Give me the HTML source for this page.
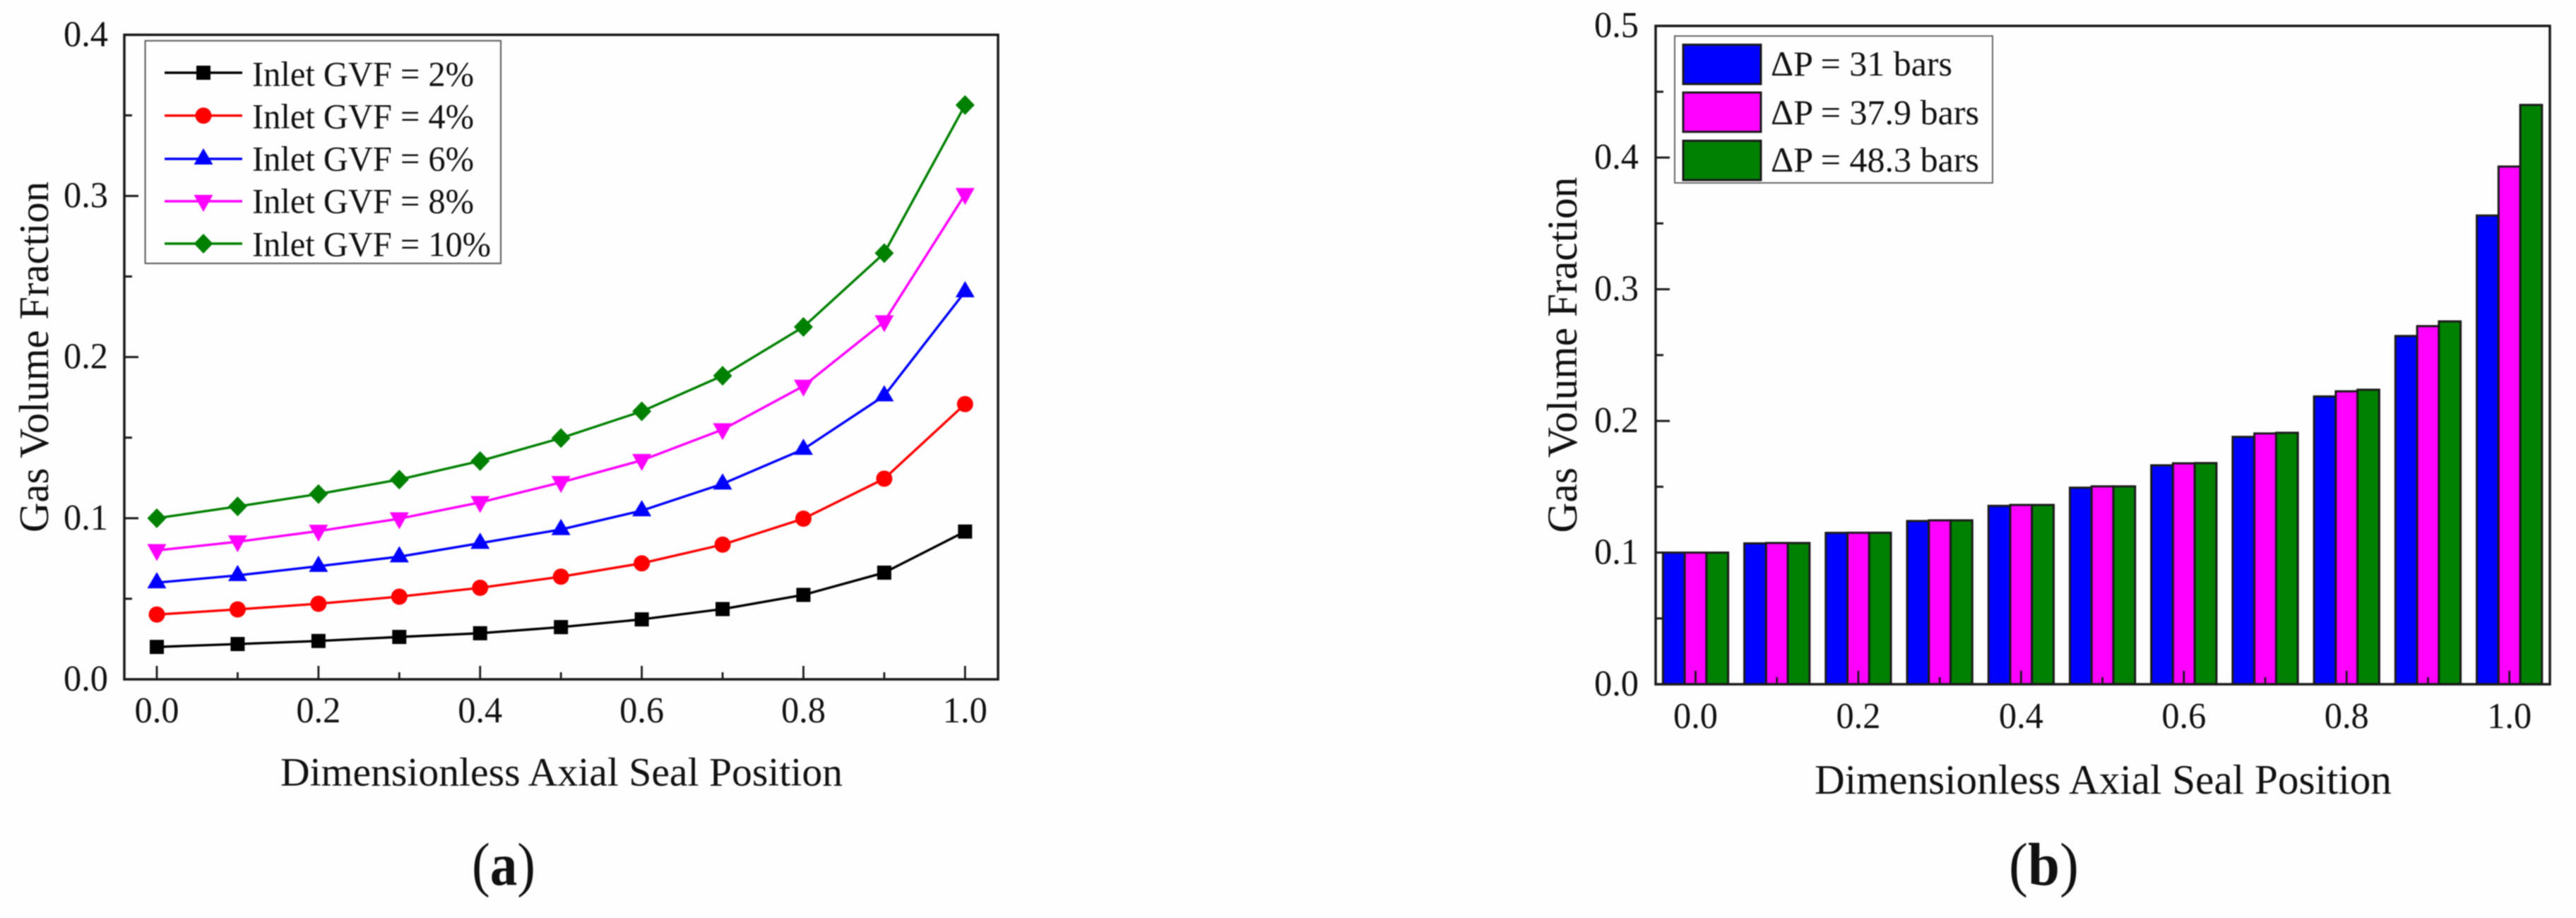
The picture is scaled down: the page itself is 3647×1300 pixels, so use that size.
<!DOCTYPE html>
<html lang="en">
<head>
<meta charset="utf-8">
<title>Gas Volume Fraction vs Dimensionless Axial Seal Position</title>
<style>
html,body{margin:0;padding:0;background:#fff;}
svg{display:block;filter:blur(0.7px);}
text{font-family:"Liberation Serif",serif;fill:#111;}
</style>
</head>
<body>
<svg id="figure" xmlns="http://www.w3.org/2000/svg" width="3647" height="1300" viewBox="0 0 3647 1300">
  <rect x="0" y="0" width="3647" height="1300" fill="#fefefe"/>

  <g id="panelA">
    <g id="seriesA"></g>
    <rect x="176" y="49.3" width="1237" height="912.7" fill="none" stroke="#1a1a1a" stroke-width="3.5"/>
    <g id="axesA"></g>
    <text transform="translate(68,754) rotate(-90)" font-size="59" textLength="497" lengthAdjust="spacingAndGlyphs">Gas Volume Fraction</text>
    <text x="397" y="1112.5" font-size="57" textLength="796" lengthAdjust="spacingAndGlyphs">Dimensionless Axial Seal Position</text>
    <g>
      <rect x="205.6" y="57.7" width="503.4" height="315.3" fill="#fefefe" stroke="#666" stroke-width="2.2"/>
      <g id="legendA"></g>
      <text x="357" y="121.7" font-size="50" textLength="314" lengthAdjust="spacingAndGlyphs">Inlet GVF = 2%</text>
      <text x="357" y="181.7" font-size="50" textLength="314" lengthAdjust="spacingAndGlyphs">Inlet GVF = 4%</text>
      <text x="357" y="241.7" font-size="50" textLength="314" lengthAdjust="spacingAndGlyphs">Inlet GVF = 6%</text>
      <text x="357" y="301.7" font-size="50" textLength="314" lengthAdjust="spacingAndGlyphs">Inlet GVF = 8%</text>
      <text x="357" y="362.3" font-size="50" textLength="338" lengthAdjust="spacingAndGlyphs">Inlet GVF = 10%</text>
    </g>
    <text x="668" y="1253" font-size="86" textLength="90" lengthAdjust="spacingAndGlyphs">(<tspan font-weight="bold">a</tspan>)</text>
  </g>

  <g id="panelB">
    <g id="barsB"></g>
    <rect x="2344" y="36.7" width="1266" height="932.3" fill="none" stroke="#1a1a1a" stroke-width="3.5"/>
    <g id="axesB"></g>
    <text transform="translate(2232,754.6) rotate(-90)" font-size="60" textLength="504" lengthAdjust="spacingAndGlyphs">Gas Volume Fraction</text>
    <text x="2569" y="1124" font-size="59" textLength="817" lengthAdjust="spacingAndGlyphs">Dimensionless Axial Seal Position</text>
    <g>
      <rect x="2371" y="51" width="450" height="208" fill="#fefefe" stroke="#666" stroke-width="2"/>
      <rect x="2383" y="63.3" width="110" height="55.7" fill="#0000ff" stroke="#1a1a1a" stroke-width="3"/>
      <rect x="2383" y="131" width="110" height="55.7" fill="#ff00ff" stroke="#1a1a1a" stroke-width="3"/>
      <rect x="2383" y="199.3" width="110" height="55.7" fill="#008000" stroke="#1a1a1a" stroke-width="3"/>
      <text x="2507" y="107" font-size="50" textLength="257" lengthAdjust="spacingAndGlyphs">ΔP = 31 bars</text>
      <text x="2507" y="176" font-size="50" textLength="295" lengthAdjust="spacingAndGlyphs">ΔP = 37.9 bars</text>
      <text x="2507" y="243" font-size="50" textLength="295" lengthAdjust="spacingAndGlyphs">ΔP = 48.3 bars</text>
    </g>
    <text x="2844" y="1253" font-size="86" textLength="99" lengthAdjust="spacingAndGlyphs">(<tspan font-weight="bold">b</tspan>)</text>
  </g>
</svg>

<script>
// Panel (a) data
var positionsA = [0, 0.1, 0.2, 0.3, 0.4, 0.5, 0.6, 0.7, 0.8, 0.9, 1.0];
var gvf2 = [0.0201, 0.0219, 0.0238, 0.0263, 0.0286, 0.0324, 0.0372, 0.0436, 0.0524, 0.0662, 0.0917];
var gvf4 = [0.0402, 0.0434, 0.0469, 0.0513, 0.0568, 0.0637, 0.0720, 0.0836, 0.0997, 0.1245, 0.1708];
var gvf6 = [0.0600, 0.0645, 0.0702, 0.0761, 0.0845, 0.0930, 0.1047, 0.1213, 0.1428, 0.1760, 0.2406];
var gvf8 = [0.0800, 0.0854, 0.0920, 0.0997, 0.1098, 0.1222, 0.1359, 0.1550, 0.1820, 0.2220, 0.3010];
var gvf10 = [0.1000, 0.1073, 0.1150, 0.1240, 0.1355, 0.1497, 0.1663, 0.1884, 0.2187, 0.2645, 0.3564];
var xTickLabelsA = ["0.0", "0.2", "0.4", "0.6", "0.8", "1.0"];
var xMinorTicksA = [0.1, 0.3, 0.5, 0.7, 0.9];
var yTickLabelsA = ["0.0", "0.1", "0.2", "0.3", "0.4"];
var yMinorTicksA = [0.05, 0.15, 0.25, 0.35];

// Panel (b) data
var positionsB = [0, 0.1, 0.2, 0.3, 0.4, 0.5, 0.6, 0.7, 0.8, 0.9, 1.0];
var dp31 = [0.1000, 0.1070, 0.1150, 0.1240, 0.1355, 0.1493, 0.1663, 0.1879, 0.2186, 0.2645, 0.3560];
var dp379 = [0.1000, 0.1073, 0.1151, 0.1245, 0.1362, 0.1503, 0.1678, 0.1905, 0.2225, 0.2720, 0.3932];
var dp483 = [0.1000, 0.1073, 0.1151, 0.1245, 0.1362, 0.1503, 0.1680, 0.1910, 0.2237, 0.2756, 0.4400];
var xTickLabelsB = ["0.0", "0.2", "0.4", "0.6", "0.8", "1.0"];
var xMinorTicksB = [0.1, 0.3, 0.5, 0.7, 0.9];
var yTickLabelsB = ["0.0", "0.1", "0.2", "0.3", "0.4", "0.5"];
var yMinorTicksB = [0.05, 0.15, 0.25, 0.35, 0.45];

var SVG_NS = "http://www.w3.org/2000/svg";
var INK = "#1a1a1a";

function xA(v) { return 222 + v * 1144.3; }
function yA(v) { return 962 - v * 2281.75; }
function xB(v) { return 2400.5 + v * 1152.2; }
function yB(v) { return 969 - v * 1864.6; }

function make(tag, attrs, parent) {
  var el = document.createElementNS(SVG_NS, tag);
  for (var k in attrs) { el.setAttribute(k, attrs[k]); }
  parent.appendChild(el);
  return el;
}

function marker(kind, cx, cy, color, parent) {
  var el;
  if (kind === "square") {
    el = make("rect", { x: cx - 10, y: cy - 10, width: 20, height: 20, fill: color }, parent);
  } else if (kind === "circle") {
    el = make("circle", { cx: cx, cy: cy, r: 11.5, fill: color }, parent);
  } else if (kind === "up") {
    el = make("polygon", { points: (cx - 13.5) + "," + (cy + 8) + " " + (cx + 13.5) + "," + (cy + 8) + " " + cx + "," + (cy - 15), fill: color }, parent);
  } else if (kind === "down") {
    el = make("polygon", { points: (cx - 13.5) + "," + (cy - 9) + " " + (cx + 13.5) + "," + (cy - 9) + " " + cx + "," + (cy + 15), fill: color }, parent);
  } else {
    el = make("polygon", { points: (cx - 13.5) + "," + cy + " " + cx + "," + (cy - 14) + " " + (cx + 13.5) + "," + cy + " " + cx + "," + (cy + 14), fill: color }, parent);
  }
  
  
  return el;
}

function drawSeries(values, color, kind, parent) {
  var pts = values.map(function (v, i) { return xA(positionsA[i]) + "," + yA(v); }).join(" ");
  var line = make("polyline", { points: pts, fill: "none", stroke: color, "stroke-width": 3.4, "stroke-linejoin": "round" }, parent);
  
  
  values.forEach(function (v, i) {
    marker(kind, xA(positionsA[i]), yA(v), color, parent);
  });
}

function drawAxes(parent, xFn, yFn, left, bottom, xLabels, xMinors, yLabels, yMinors, labelRight, yLabelOffset, xLabelBase) {
  xLabels.forEach(function (label) {
    var v = parseFloat(label);
    var t = make("line", { x1: xFn(v), x2: xFn(v), y1: bottom, y2: bottom - 19, stroke: INK, "stroke-width": 2.8 }, parent);
    
    
    var txt = make("text", { x: xFn(v), y: xLabelBase, "font-size": 52, "text-anchor": "middle", textLength: 63, lengthAdjust: "spacingAndGlyphs" }, parent);
    
    
    txt.textContent = label;
  });
  xMinors.forEach(function (v) {
    var t = make("line", { x1: xFn(v), x2: xFn(v), y1: bottom, y2: bottom - 10, stroke: INK, "stroke-width": 2.8 }, parent);
    
    
  });
  yLabels.forEach(function (label) {
    var v = parseFloat(label);
    var t = make("line", { x1: left, x2: left + 20, y1: yFn(v), y2: yFn(v), stroke: INK, "stroke-width": 3 }, parent);
    
    
    var txt = make("text", { x: labelRight, y: yFn(v) + yLabelOffset, "font-size": 52, "text-anchor": "end", textLength: 63, lengthAdjust: "spacingAndGlyphs" }, parent);
    
    
    txt.textContent = label;
  });
  yMinors.forEach(function (v) {
    var t = make("line", { x1: left, x2: left + 11, y1: yFn(v), y2: yFn(v), stroke: INK, "stroke-width": 3 }, parent);
    
    
  });
}

// Panel (a) series
var seriesA = document.getElementById("seriesA");
drawSeries(gvf2, "#000000", "square", seriesA);
drawSeries(gvf4, "#ff0000", "circle", seriesA);
drawSeries(gvf6, "#0000ff", "up", seriesA);
drawSeries(gvf8, "#ff00ff", "down", seriesA);
drawSeries(gvf10, "#008000", "diamond", seriesA);
drawAxes(document.getElementById("axesA"), xA, yA, 176, 962, xTickLabelsA, xMinorTicksA, yTickLabelsA, yMinorTicksA, 153, 16, 1023);

// Panel (a) legend keys
var legendA = document.getElementById("legendA");
var legendKeys = [["#000000", "square", 103], ["#ff0000", "circle", 163.7], ["#0000ff", "up", 225], ["#ff00ff", "down", 285], ["#008000", "diamond", 345]];
legendKeys.forEach(function (k) {
  var l = make("line", { x1: 233, x2: 343, y1: k[2], y2: k[2], stroke: k[0], "stroke-width": 3.4 }, legendA);
  
  
  marker(k[1], 288, k[2], k[0], legendA);
});

// Panel (b) bars
var barsB = document.getElementById("barsB");
var barGroups = [[dp31, "#0000ff", -1.5], [dp379, "#ff00ff", -0.5], [dp483, "#008000", 0.5]];
var BAR_UNITS = 0.0267;
barGroups.forEach(function (g) {
  g[0].forEach(function (v, i) {
    var x = xB(positionsB[i] + g[2] * BAR_UNITS);
    var x2 = xB(positionsB[i] + (g[2] + 1) * BAR_UNITS);
    var bar = make("rect", { x: x, y: yB(v), width: x2 - x, height: yB(0) - yB(v), fill: g[1], stroke: INK, "stroke-width": 3 }, barsB);
    
    
  });
});
drawAxes(document.getElementById("axesB"), xB, yB, 2344, 969, xTickLabelsB, xMinorTicksB, yTickLabelsB, yMinorTicksB, 2320, 16, 1031);
</script>
</body>
</html>
